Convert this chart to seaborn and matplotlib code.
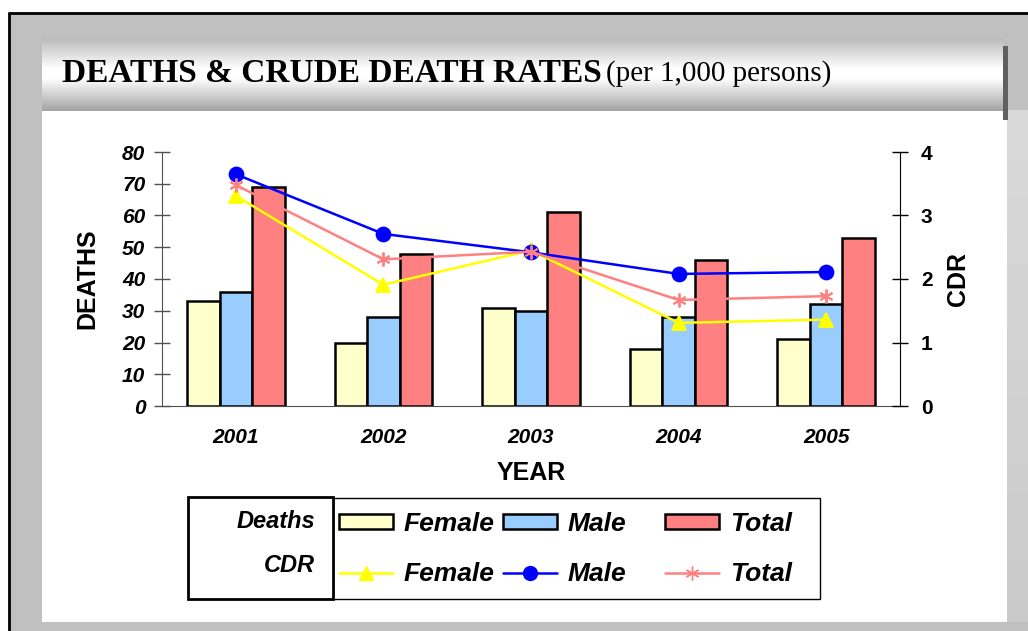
import numpy as np
import pandas as pd
import matplotlib
matplotlib.use("Agg")
import matplotlib.pyplot as plt
import seaborn as sns
from matplotlib.patches import Rectangle, Patch
from matplotlib.lines import Line2D

# Dados
anos = ["2001", "2002", "2003", "2004", "2005"]
obitos_fem = [33, 20, 31, 18, 21]
obitos_masc = [36, 28, 30, 28, 32]
obitos_total = [69, 48, 61, 46, 53]
tbm_fem = [3.31, 1.91, 2.45, 1.31, 1.36]
tbm_masc = [3.65, 2.71, 2.42, 2.08, 2.11]
tbm_total = [3.48, 2.31, 2.43, 1.67, 1.73]
grupos = ["Female", "Male", "Total"]

cores_barras = ["#FFFFCC", "#99CCFF", "#FF8080"]
cores_linhas = ["#FFFF00", "#0000FF", "#FF8080"]
marcadores = ["^", "o", (6, 2, 0)]

df_obitos = pd.DataFrame({
    "ano": anos * 3,
    "grupo": np.repeat(grupos, len(anos)),
    "obitos": obitos_fem + obitos_masc + obitos_total,
})
df_tbm = pd.DataFrame({
    "ano": anos * 3,
    "grupo": np.repeat(grupos, len(anos)),
    "tbm": tbm_fem + tbm_masc + tbm_total,
})

sns.set_style("white")
plt.rcParams["font.family"] = ["Liberation Sans", "DejaVu Sans"]
plt.rcParams.update({"text.color": "black", "axes.labelcolor": "black",
                     "xtick.color": "black", "ytick.color": "black"})

W, H = 1028, 631
fig = plt.figure(figsize=(W / 100, H / 100), dpi=100, facecolor="white")

# Fundo / moldura
bg = fig.add_axes([0, 0, 1, 1], zorder=-10)
bg.axis("off")
bg.add_patch(Rectangle((9, 13), W, H, facecolor="#c0c0c0", edgecolor="none", zorder=0))
bg.plot([9, 9], [13, H], color="black", lw=2, zorder=5)
bg.plot([9, W], [13, 13], color="black", lw=2, zorder=5)
grad_dir = np.linspace(0, 1, 100)[:, None]
bg.imshow(0.85 - 0.06 * grad_dir, extent=(1007, W, 622, 110), cmap="gray",
          vmin=0, vmax=1, aspect="auto", zorder=1)
bg.add_patch(Rectangle((42, 110), 965, 512, facecolor="white", edgecolor="none", zorder=2))
t = np.linspace(0, 1, 100)
faixa = np.interp(t, [0, 0.42, 0.55, 1], [0.73, 1.0, 1.0, 0.64])[:, None]
bg.imshow(faixa, extent=(42, 1003, 111, 38), cmap="gray", vmin=0, vmax=1,
          aspect="auto", zorder=3)
bg.add_patch(Rectangle((1003, 46), 5, 74, facecolor="#606060", edgecolor="none", zorder=3))
bg.set_xlim(0, W)
bg.set_ylim(H, 0)

fig.text(62 / W, 1 - 73 / H, "DEATHS & CRUDE DEATH RATES", fontsize=24,
         fontweight="bold", family="Liberation Serif", va="center", ha="left")
fig.text(606 / W, 1 - 74 / H, "(per 1,000 persons)", fontsize=21,
         family="Liberation Serif", va="center", ha="left")

# Eixo principal
ax = fig.add_axes([162 / W, 1 - 406 / H, (900 - 162) / W, (406 - 152) / H])
ax.set_facecolor("none")
sns.barplot(data=df_obitos, x="ano", y="obitos", hue="grupo", palette=cores_barras,
            edgecolor="black", linewidth=1.8, width=0.66, saturation=1,
            legend=False, ax=ax)
ax.set_ylim(0, 80)
ax.set_yticks(range(0, 81, 10))
ax.set_xlim(-0.5, 4.5)
ax.set_xticks(range(5))
ax.set_xticklabels(anos)
ax.set_xticks(np.arange(-0.5, 5, 1), minor=True)
ax.tick_params(axis="x", which="major", length=0, pad=16)
ax.tick_params(axis="x", which="minor", length=12, direction="inout", width=1,
               color="#505050")
ax.tick_params(axis="y", length=12, direction="inout", width=1, pad=6,
               color="#505050")
for lab in ax.get_xticklabels() + ax.get_yticklabels():
    lab.set_fontsize(15)
    lab.set_fontweight("bold")
    lab.set_fontstyle("italic")
ax.set_xlabel("YEAR", fontsize=18, fontweight="bold", labelpad=10)
ax.set_ylabel("DEATHS", fontsize=18, fontweight="bold", labelpad=16)
for s in ["top", "right"]:
    ax.spines[s].set_visible(False)
ax.spines["left"].set_color("#505050")
ax.spines["bottom"].set_color("#505050")

# Eixo secundário (CDR)
ax2 = ax.twinx()
sns.pointplot(data=df_tbm, x="ano", y="tbm", hue="grupo", palette=cores_linhas,
              markers=marcadores, linestyles="-", errorbar=None,
              markersize=10, linewidth=1.8, legend=False, ax=ax2)
ax2.set_ylim(0, 4)
ax2.set_yticks(range(0, 5))
ax2.set_xlim(-0.5, 4.5)
ax2.set_ylabel("CDR", fontsize=18, fontweight="bold", labelpad=10)
ax2.tick_params(axis="y", length=12, direction="inout", width=1, pad=9,
                labelsize=15)
for lab in ax2.get_yticklabels():
    lab.set_fontweight("bold")
for s in ["top", "left", "bottom"]:
    ax2.spines[s].set_visible(False)
ax2.spines["right"].set_color("black")
ax2.set_xlabel("")

# Legenda
fig.patches.append(Rectangle((333 / W, 1 - 599 / H), (820 - 333) / W, 101 / H,
                             transform=fig.transFigure, facecolor="white",
                             edgecolor="black", lw=1, zorder=1))
fig.patches.append(Rectangle((188 / W, 1 - 599 / H), (333 - 188) / W, 102 / H,
                             transform=fig.transFigure, facecolor="white",
                             edgecolor="black", lw=2, zorder=2))
fig.text(315 / W, 1 - 522 / H, "Deaths", fontsize=17, fontweight="bold",
         fontstyle="italic", ha="right", va="center")
fig.text(315 / W, 1 - 566 / H, "CDR", fontsize=17, fontweight="bold",
         fontstyle="italic", ha="right", va="center")

col_x = [339, 503, 665]
for i, g in enumerate(grupos):
    hs = [Patch(facecolor=cores_barras[i], edgecolor="black", lw=1.8, label=g),
          Line2D([], [], color=cores_linhas[i], marker=marcadores[i],
                 markersize=10, lw=1.8, label=g)]
    leg = fig.legend(handles=hs, ncol=1, loc="upper left",
                     bbox_to_anchor=(col_x[i] / W, 1 - 512 / H), frameon=False,
                     prop={"size": 19, "weight": "bold", "style": "italic"},
                     handlelength=2.05, handleheight=0.5, labelspacing=1.0,
                     borderpad=0, borderaxespad=0, handletextpad=0.4)

fig.savefig("out.png", dpi=100, facecolor=fig.get_facecolor())
